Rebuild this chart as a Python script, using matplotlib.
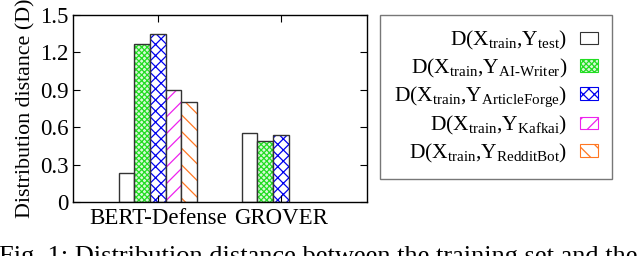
import numpy as np
import matplotlib
matplotlib.use('agg')
import matplotlib.pyplot as plt
from matplotlib.patches import Patch

plt.rcParams['font.family'] = 'Liberation Serif'
plt.rcParams['mathtext.fontset'] = 'custom'
plt.rcParams['mathtext.rm'] = 'Liberation Serif'
plt.rcParams['mathtext.it'] = 'Liberation Serif:italic'
plt.rcParams['hatch.linewidth'] = 0.9

# datos
groups = ['BERT-Defense', 'GROVER']
series = [
    r'D(X$_\mathrm{train}$,Y$_\mathrm{test}$)',
    r'D(X$_\mathrm{train}$,Y$_\mathrm{AI\text{-}Writer}$)',
    r'D(X$_\mathrm{train}$,Y$_\mathrm{ArticleForge}$)',
    r'D(X$_\mathrm{train}$,Y$_\mathrm{Kafkai}$)',
    r'D(X$_\mathrm{train}$,Y$_\mathrm{RedditBot}$)',
]
test_vals = [0.23, 0.55]
aiwriter_vals = [1.27, 0.49]
articleforge_vals = [1.35, 0.54]
kafkai_vals = [0.90, 0.0]
redditbot_vals = [0.80, 0.0]
values = [test_vals, aiwriter_vals, articleforge_vals, kafkai_vals, redditbot_vals]

colors = ['white', '#22dd22', '#0000ee', '#ee22ee', '#ff7722']
faces = ['white', '#d8f8d8', 'white', 'white', 'white']
hatches = [None, 'xxxxxx', 'xxx', '//', '\\\\']

fig = plt.figure(figsize=(6.4, 2.56), dpi=100)
ax = fig.add_axes([72.7 / 640, 1 - 202 / 256, (367 - 72.7) / 640, (202 - 15) / 256])

x = np.arange(len(groups))
w = 0.127
for i in range(len(series)):
    pos = x + (i - 2) * w
    vals = np.array(values[i])
    keep = vals > 0
    ax.bar(pos[keep], vals[keep], w, color=faces[i], hatch=hatches[i],
           edgecolor=colors[i], linewidth=0)
    ax.bar(pos[keep], vals[keep], w, fill=False, edgecolor='#333333', linewidth=1.0)

fs = 16.5
ax.set_xlim(-0.693, 1.70)
ax.set_ylim(0, 1.5)
ax.set_yticks([0, 0.3, 0.6, 0.9, 1.2, 1.5])
ax.set_yticklabels(['0', '0.3', '0.6', '0.9', '1.2', '1.5'])
ax.set_xticks(x)
ax.set_xticklabels(groups)
ax.tick_params(axis='y', direction='in', right=True, labelsize=fs, length=5, pad=3)
ax.tick_params(axis='x', direction='in', top=True, labelsize=fs, length=5, pad=4)
ax.set_ylabel('Distribution distance (D)', fontsize=15.8, labelpad=3)
for s in ax.spines.values():
    s.set_linewidth(1.0)

handles = [Patch(facecolor=faces[i], edgecolor=colors[i] if hatches[i] else '#333333',
                 hatch=hatches[i], linewidth=0.8) for i in range(len(series))]
leg = fig.legend(handles, series, loc='upper left', bbox_to_anchor=(380 / 640, 1 - 15 / 256),
                 borderaxespad=0, markerfirst=False, fontsize=15.5, fancybox=False,
                 edgecolor='#777777', handlelength=0.85, handleheight=0.5,
                 labelspacing=0.22, borderpad=0.65, handletextpad=0.6)
leg.get_frame().set_linewidth(1.0)
leg.get_frame().set_alpha(None)

# pie de figura (cortado en el borde inferior, como en la original)
fig.text(-1 / 640, 1 - 246 / 256, 'Fig. 1: Distribution distance between the training set and the',
         fontsize=19, ha='left', va='top')

plt.savefig('out.png', dpi=100)
plt.close()
